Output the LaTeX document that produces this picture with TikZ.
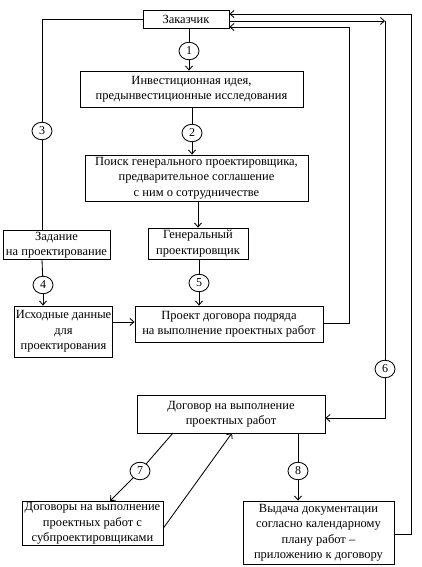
\documentclass[tikz,border=0pt]{standalone}
\usepackage{fontspec}
\setmainfont{Liberation Serif}
\usetikzlibrary{arrows.meta,shapes.geometric}
\begin{document}
\begin{tikzpicture}[x=1pt,y=-1pt,
  line width=0.85pt,
  box/.style={draw,rectangle,align=center,inner sep=1pt,font=\fontsize{12.5}{15.5}\selectfont},
  num/.style={draw,ellipse,minimum width=20pt,minimum height=17.5pt,inner sep=0pt,font=\fontsize{12}{14}\selectfont,fill=white},
  arr/.style={-{Straight Barb[length=4pt,width=7pt]}}]
\useasboundingbox (0,0) rectangle (421,567);
\node[box,minimum width=86pt,minimum height=18pt] (zak) at (186,19) {Заказчик};
\node[box,minimum width=223pt,minimum height=36pt] (inv) at (191.5,89) {Инвестиционная идея,\\предынвестиционные исследования};
\node[box,minimum width=223pt,minimum height=46pt] (poisk) at (196.5,178) {Поиск генерального проектировщика,\\предварительное соглашение\\с ним о сотрудничестве};
\node[box,minimum width=100pt,minimum height=31pt] (gen) at (198,243.5) {Генеральный\\проектировщик};
\node[box,minimum width=107pt,minimum height=28pt] (zad) at (56.5,245) {Задание\\на проектирование};
\node[box,minimum width=93pt,minimum height=51pt] (isx) at (63.5,331.5) {Исходные данные\\для\\проектирования};
\node[box,minimum width=188pt,minimum height=36pt] (proj) at (229,324) {Проект договора подряда\\на выполнение проектных работ};
\node[box,minimum width=188pt,minimum height=38pt] (dog) at (231,414) {Договор на выполнение\\проектных работ};
\node[box,minimum width=141pt,minimum height=43pt] (dogs) at (92.5,523.5) {Договоры на выполнение\\проектных работ с\\субпроектировщиками};
\node[box,minimum width=151pt,minimum height=63pt] (vyd) at (318.5,532.5) {Выдача документации\\согласно календарному\\плану работ –\\приложению к договору};
\node[num] (c1) at (189,51) {1};
\node[num] (c2) at (192,133) {2};
\node[num] (c3) at (42,131) {3};
\node[num] (c4) at (43,285) {4};
\node[num] (c5) at (199,283) {5};
\node[num] (c6) at (385,369) {6};
\node[num] (c7) at (140,471) {7};
\node[num] (c8) at (298,471) {8};
\coordinate (p3) at (42,19);
\coordinate (p6a) at (385,21);
\coordinate (p6b) at (385,418);
\coordinate (pp1) at (349,323);
\coordinate (pp2) at (349,27);
\coordinate (pv1) at (411,534);
\coordinate (pv2) at (411,14);
\coordinate (d7) at (173,433);
\coordinate (d7b) at (232,433);
% left branch
\draw (zak.west) -- (p3) -- (c3);
\draw (c3) -- (c3 |- zad.north);
\draw (c3 |- zad.south) -- (c4);
\draw[arr] (c4) -- (c4 |- isx.north);
% centre chain
\draw (c1 |- zak.south) -- (c1);
\draw[arr] (c1) -- (c1 |- inv.north);
\draw (c2 |- inv.south) -- (c2);
\draw[arr] (c2) -- (c2 |- poisk.north);
\draw[arr] (gen |- poisk.south) -- (gen.north);
\draw (c5 |- gen.south) -- (c5);
\draw[arr] (c5) -- (c5 |- proj.north);
\draw[arr] (isx.east |- 0,322) -- (proj.west |- 0,322);
% return lines
\draw[arr] (proj.east |- pp1) -- (pp1) -- (pp2) -- (zak.east |- pp2);
\draw[arr] (zak.east |- p6a) -- (p6a);
\draw (p6a) -- (c6);
\draw[arr] (c6) -- (p6b) -- (dog.east |- p6b);
\draw[arr] (vyd.east |- pv1) -- (pv1) -- (pv2) -- (zak.east |- pv2);
% bottom
\draw (d7) -- (c7);
\draw[arr] (c7) -- (110,501);
\draw[arr] (dogs.east |- 0,528) -- (d7b);
\draw (c8 |- dog.south) -- (c8);
\draw[arr] (c8) -- (c8 |- vyd.north);
\end{tikzpicture}
\end{document}
